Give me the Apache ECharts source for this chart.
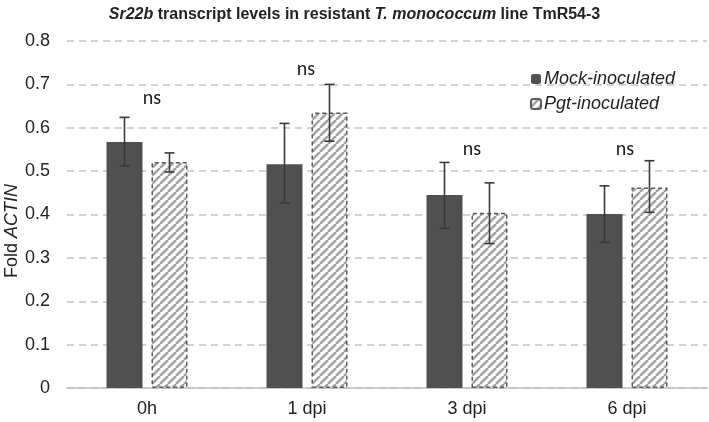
<!DOCTYPE html>
<html><head><meta charset="utf-8">
<script src="https://cdn.jsdelivr.net/npm/echarts@6/dist/echarts.min.js"></script>
<style>html,body{margin:0;padding:0;background:#fff}#c{width:709px;height:422px}</style>
</head><body><div id="c"></div>
<script>
const categories = ['0h', '1 dpi', '3 dpi', '6 dpi'];
const mock = [0.567, 0.516, 0.445, 0.401];
const mockLow = [0.512, 0.426, 0.368, 0.336];
const mockHigh = [0.624, 0.610, 0.520, 0.466];
const pgt = [0.521, 0.635, 0.404, 0.462];
const pgtLow = [0.498, 0.569, 0.333, 0.405];
const pgtHigh = [0.542, 0.700, 0.473, 0.524];
const nsY = [0.666, 0.733, 0.548, 0.548];
const nsText = ['ns', 'ns', 'ns', 'ns'];
const yMin = 0, yMax = 0.8, yStep = 0.1;

const FONT = '"Liberation Sans", Arial, sans-serif';
const NSFONT = 'Carlito, "Open Sans", "Liberation Sans", sans-serif';
const BAR_W = 36, BAR_GAP = 9;
const OFF = (BAR_W + BAR_GAP) / 2;
const NS_DX = [5, -1, 5, -2];

function hatch() {
  const s = 8;
  const c = document.createElement('canvas');
  c.width = s; c.height = s;
  const g = c.getContext('2d');
  g.fillStyle = '#ffffff'; g.fillRect(0, 0, s, s);
  g.strokeStyle = '#a3a3a3'; g.lineWidth = 2.6;
  for (const d of [-s, 0, s]) {
    g.beginPath(); g.moveTo(d, s); g.lineTo(d + s, 0); g.stroke();
  }
  return c;
}
const pattern = { image: hatch(), repeat: 'repeat' };

function errSeries(low, high, offset) {
  return {
    type: 'custom',
    silent: true,
    z: 5,
    data: categories.map((c, i) => [i, low[i], high[i]]),
    renderItem: function (params, api) {
      const i = api.value(0);
      const pLow = api.coord([i, api.value(1)]);
      const pHigh = api.coord([i, api.value(2)]);
      const x = pLow[0] + offset;
      const cap = 5;
      const st = { stroke: '#3a3a3a', lineWidth: 1.6 };
      return {
        type: 'group',
        children: [
          { type: 'line', shape: { x1: x, y1: pLow[1], x2: x, y2: pHigh[1] }, style: st },
          { type: 'line', shape: { x1: x - cap, y1: pLow[1], x2: x + cap, y2: pLow[1] }, style: st },
          { type: 'line', shape: { x1: x - cap, y1: pHigh[1], x2: x + cap, y2: pHigh[1] }, style: st }
        ]
      };
    }
  };
}

const chart = echarts.init(document.getElementById('c'));
chart.setOption({
  animation: false,
  backgroundColor: '#ffffff',
  textStyle: { fontFamily: FONT },
  title: {
    text: '{i|Sr22b} transcript levels in resistant {i|T. monococcum} line TmR54-3',
    left: 'center', top: 2,
    textStyle: {
      fontFamily: FONT, fontSize: 16, fontWeight: 'bold', color: '#222',
      rich: { i: { fontFamily: FONT, fontSize: 16, fontWeight: 'bold', fontStyle: 'italic', color: '#222' } }
    }
  },
  grid: { left: 67, right: 2, top: 41, bottom: 34, containLabel: false },
  legend: {
    orient: 'vertical', left: 525, top: 65,
    itemWidth: 10, itemHeight: 10, itemGap: 7,
    data: ['Mock-inoculated', 'Pgt-inoculated'],
    textStyle: { fontFamily: FONT, fontSize: 18, fontStyle: 'italic', color: '#222', padding: [0, 0, 0, -2] }
  },
  xAxis: {
    type: 'category', data: categories,
    axisTick: { show: false },
    axisLine: { lineStyle: { color: '#bfbfbf', width: 1.5 } },
    axisLabel: { fontFamily: FONT, fontSize: 18, color: '#222', margin: 12 }
  },
  yAxis: {
    type: 'value', min: yMin, max: yMax, interval: yStep,
    axisLine: { show: false }, axisTick: { show: false },
    axisLabel: { fontFamily: FONT, fontSize: 18, color: '#222', margin: 17,
      formatter: v => (Math.round(v * 10) / 10).toString() },
    splitLine: { lineStyle: { color: '#c4c4c4', type: [7, 5], width: 1.5 } }
  },
  graphic: [{
    type: 'text', x: 12, y: 231, rotation: Math.PI / 2,
    style: {
      text: 'Fold {i|ACTIN}', align: 'center', verticalAlign: 'middle',
      fontFamily: FONT, fontSize: 18, fill: '#222',
      rich: { i: { fontFamily: FONT, fontSize: 18, fontStyle: 'italic', fill: '#222' } }
    }
  }],
  series: [
    {
      name: 'Mock-inoculated', type: 'bar', data: mock,
      barWidth: BAR_W, barGap: (BAR_GAP / BAR_W * 100) + '%',
      itemStyle: { color: '#505050' }
    },
    {
      name: 'Pgt-inoculated', type: 'bar', data: pgt,
      barWidth: BAR_W,
      itemStyle: { color: pattern, borderColor: '#5a5a5a', borderWidth: 1.5, borderType: [4, 3] }
    },
    errSeries(mockLow, mockHigh, -OFF),
    errSeries(pgtLow, pgtHigh, OFF),
    {
      type: 'custom', silent: true, z: 6,
      data: nsY.map((v, i) => [i, v]),
      renderItem: function (params, api) {
        const p = api.coord([api.value(0), api.value(1)]);
        return {
          type: 'text', x: p[0] + NS_DX[params.dataIndex], y: p[1],
          style: { text: nsText[params.dataIndex], align: 'center', verticalAlign: 'middle',
            fontFamily: NSFONT, fontSize: 20, fill: '#222' }
        };
      }
    }
  ]
});
</script></body></html>
